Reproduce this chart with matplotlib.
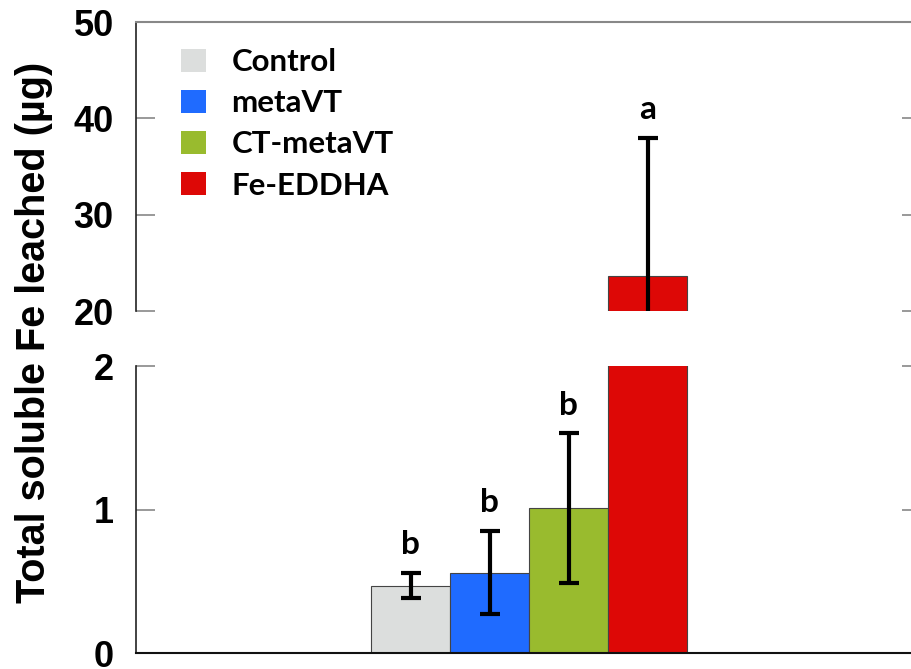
import numpy as np
import matplotlib
matplotlib.use('Agg')
import matplotlib.pyplot as plt
from matplotlib.patches import Patch

# treatments and measured Fe (ug), mean +/- error
groups = ['Control', 'metaVT', 'CT-metaVT', 'Fe-EDDHA']
means = [0.47, 0.56, 1.01, 23.6]
errs = [0.087, 0.29, 0.52, 14.4]
letters = ['b', 'b', 'b', 'a']
colors = ['#dcdedd', '#1f6bff', '#99bb2e', '#dd0806']

upper_ticks = [20, 30, 40, 50]
lower_ticks = [0, 1, 2]

fig = plt.figure(figsize=(9.12, 6.69), dpi=100)
ax_top = fig.add_axes([0.1491, 0.5351, 0.8608, 0.4320])
ax_bot = fig.add_axes([0.1491, 0.0239, 0.8608, 0.4290])

x = np.arange(len(groups))

for ax in (ax_top, ax_bot):
    ax.bar(x, means, width=1.0, color=colors, edgecolor='#444444', linewidth=0.8, zorder=2)
    ax.errorbar(x, means, yerr=errs, fmt='none', ecolor='black', elinewidth=3,
                capsize=7, capthick=3, zorder=3)
    ax.set_xlim(-3.48, 6.46)
    ax.set_xticks([])
    ax.tick_params(axis='y', direction='in', length=14, width=1.2, color='#888888',
                   right=True, pad=16)
    ax.spines['left'].set_color('#222222')
    ax.spines['left'].set_linewidth(1.2)
    ax.spines['right'].set_visible(False)

tick_font = dict(fontweight='bold', fontsize=26, family='Liberation Sans')

ax_top.set_ylim(20, 50)
ax_top.set_yticks(upper_ticks)
ax_top.set_yticklabels([str(t) for t in upper_ticks], **tick_font)
ax_top.spines['bottom'].set_visible(False)
ax_top.spines['top'].set_color('#888888')
ax_top.spines['top'].set_linewidth(1.5)

ax_bot.set_ylim(0, 2)
ax_bot.set_yticks(lower_ticks)
ax_bot.set_yticklabels([str(t) for t in lower_ticks], **tick_font)
ax_bot.spines['top'].set_visible(False)
ax_bot.spines['bottom'].set_color('#111111')
ax_bot.spines['bottom'].set_linewidth(1.5)

# significance letters above the error bars
for i in range(len(groups)):
    top = means[i] + errs[i]
    ax = ax_top if top > 2 else ax_bot
    ax.annotate(letters[i], (x[i], top), xytext=(0, 10), textcoords='offset points',
                ha='center', va='bottom', fontsize=24, fontweight='bold', family='Lato')

handles = [Patch(facecolor=c, edgecolor='none') for c in colors]
ax_top.legend(handles, groups, loc='upper left', bbox_to_anchor=(0.199, 0.928),
              bbox_transform=fig.transFigure, frameon=False, borderpad=0, borderaxespad=0,
              handlelength=0.8, handleheight=0.78, handletextpad=0.8,
              labelspacing=0.42, prop={'family': 'Lato', 'weight': 'bold', 'size': 22.5})

fig.text(0.037, 0.503, 'Total soluble Fe leached (\u00b5g)', rotation=90, ha='center',
         va='center', fontsize=28.5, fontweight='bold', family='Liberation Sans')

fig.savefig('out.png', dpi=100)
